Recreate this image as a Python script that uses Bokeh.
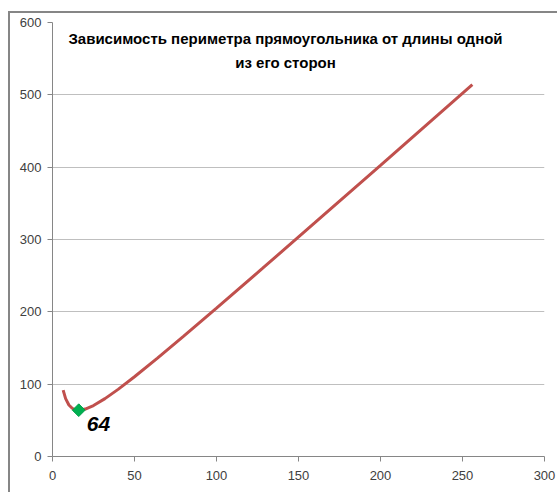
import math
from bokeh.plotting import figure
from bokeh.models import Label, FixedTicker, Range1d
from bokeh.embed import file_html
from bokeh.resources import INLINE

# Side length (x) and perimeter (y)
side = [6.5, 8, 10, 12, 14, 16, 20, 25, 32, 40, 50, 64, 80, 100, 128, 160, 200, 256]
perimeter = [91.8, 80, 71.2, 66.7, 64.6, 64, 65.6, 70.5, 80, 92.8, 110.2, 136, 166.4,
             205.1, 260, 323.2, 402.6, 514]
min_x = [16]
min_y = [64]
min_label = "64"
title_lines = ["Зависимость периметра прямоугольника от длины одной", "из его сторон"]
x_ticks = [0, 50, 100, 150, 200, 250, 300]
y_ticks = [0, 100, 200, 300, 400, 500, 600]

FONT = "Liberation Sans"

p = figure(width=549, height=481, output_backend="svg", toolbar_location=None,
           x_range=Range1d(0, 300), y_range=Range1d(0, 600),
           min_border_left=42, min_border_right=15, min_border_top=9, min_border_bottom=38,
           margin=(11, 0, 0, 8),
           styles={"border-left": "2px solid #868686", "border-top": "2px solid #868686"})
p.outline_line_color = None
p.background_fill_color = "white"
p.border_fill_color = "white"

for ax, ticks in ((p.xaxis, x_ticks), (p.yaxis, y_ticks)):
    ax.ticker = FixedTicker(ticks=ticks)
    ax.axis_line_color = "#868686"
    ax.major_tick_line_color = "#868686"
    ax.major_tick_out = 5
    ax.major_tick_in = 0
    ax.minor_tick_line_color = None
    ax.major_label_text_font = FONT
    ax.major_label_text_font_size = "13px"
    ax.major_label_text_color = "#404040"
p.xaxis.major_label_standoff = 9
p.yaxis.major_label_standoff = 6

p.xgrid.grid_line_color = None
p.ygrid.grid_line_color = "#BFBFBF"
p.ygrid.grid_line_width = 1

p.line(side, perimeter, line_color="#C0504D", line_width=3)
p.scatter(min_x, min_y, marker="square", size=9, angle=math.pi / 4,
          fill_color="#00B050", line_color="#00A048", line_width=1)

p.add_layout(Label(x=min_x[0], y=min_y[0], text=min_label, x_offset=8, y_offset=-7,
                   text_baseline="top", text_align="left", text_font=FONT,
                   text_font_size="21px", text_font_style="bold italic", text_color="black"))

p.add_layout(Label(x=233, y=418, x_units="screen", y_units="screen", text=title_lines[0],
                   text_align="center", text_baseline="middle", text_font=FONT,
                   text_font_size="15px", text_font_style="bold", text_color="black"))
p.add_layout(Label(x=233, y=394, x_units="screen", y_units="screen", text=title_lines[1],
                   text_align="center", text_baseline="middle", text_font=FONT,
                   text_font_size="15px", text_font_style="bold", text_color="black"))

open("out.html", "w").write(file_html(p, INLINE))
